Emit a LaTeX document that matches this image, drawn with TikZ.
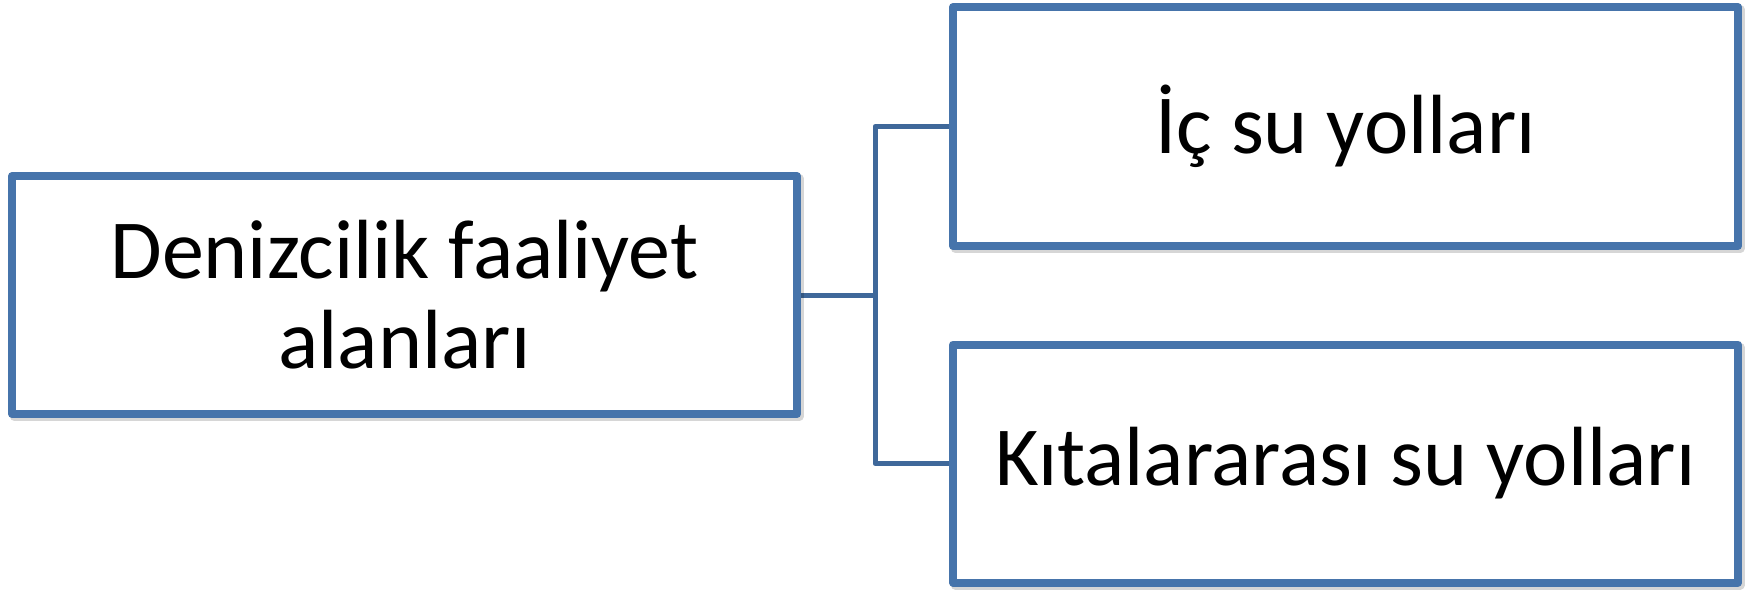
\documentclass[tikz,border=0pt]{standalone}
\usepackage{fontspec}
\setmainfont{Carlito}
\usetikzlibrary{backgrounds}
\definecolor{boxblue}{RGB}{70,116,171}
\definecolor{linkblue}{RGB}{63,104,154}
\tikzset{
  itembox/.style={draw=boxblue, line width=8pt, fill=white, line join=round,
    rectangle, inner sep=0pt, outer sep=0pt, minimum width=785pt,
    align=center, font=\fontsize{84}{90}\selectfont,
    preaction={draw=black, draw opacity=0.16, line width=9pt,
      transform canvas={xshift=2pt, yshift=-2.5pt}}},
  link/.style={draw=linkblue, line width=5pt, line join=round}
}
\begin{document}
\begin{tikzpicture}[x=1pt, y=-1pt]
  \useasboundingbox (0,0) rectangle (1752,589);
  \node[itembox, minimum height=238pt] (root) at (404.5,295) {Denizcilik faaliyet\\alanları};
  \node[itembox, minimum height=239pt] (inland) at (1345.5,126.5) {İç su yolları};
  \node[itembox, minimum height=238pt] (ocean) at (1345.5,463.5) {Kıtalararası su yolları};
  \coordinate (split) at (875,295);
  \begin{scope}[on background layer]
    \draw[link] (root.east) -- (split);
    \draw[link] (split) |- (inland.west);
    \draw[link] (split) |- (ocean.west);
  \end{scope}
\end{tikzpicture}
\end{document}
